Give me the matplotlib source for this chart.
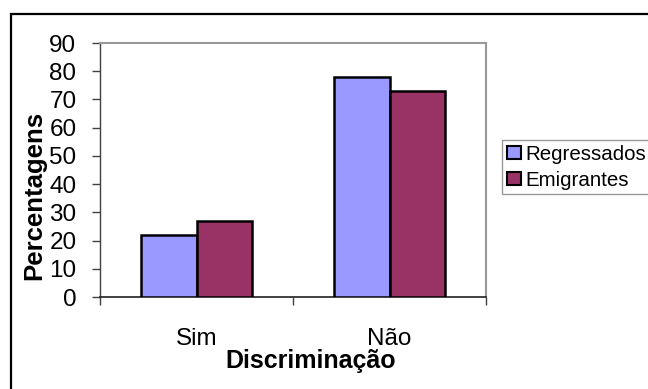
import matplotlib
matplotlib.use("Agg")
import matplotlib.pyplot as plt
from matplotlib.patches import Rectangle, Patch
import numpy as np

categories = ["Sim", "Não"]
regressados = [22, 78]
emigrantes = [27, 73]
series_names = ["Regressados", "Emigrantes"]
yticks = [0, 10, 20, 30, 40, 50, 60, 70, 80, 90]

plt.rcParams["font.family"] = ["Liberation Sans", "DejaVu Sans"]

W, H = 648, 389
fig = plt.figure(figsize=(W / 100, H / 100), dpi=100)

# outer chart-area border (runs off the right and bottom edges)
fig.patches.append(Rectangle((10.5 / W, -0.05), 1.2, 1 - 14 / H + 0.05,
                             transform=fig.transFigure, fill=False,
                             edgecolor="black", linewidth=1.6))

ax = fig.add_axes([100 / W, 1 - 297 / H, 386 / W, 254 / H])

x = np.arange(len(categories))
bw = 0.288
blue = "#9999FF"
plum = "#993366"
ax.bar(x - bw / 2, regressados, bw, color=blue, edgecolor="black", linewidth=1.8, zorder=3)
ax.bar(x + bw / 2, emigrantes, bw, color=plum, edgecolor="black", linewidth=1.8, zorder=3)

ax.set_xlim(-0.5, 1.5)
ax.set_ylim(0, 90)
ax.set_yticks(yticks)
ax.set_yticklabels([str(v) for v in yticks], fontsize=17.5)
ax.tick_params(axis="y", length=6, width=1, color="#404040", pad=11)

ax.set_xticks([-0.5, 0.5, 1.5])
ax.set_xticklabels([])
ax.set_xticks(x, minor=True)
ax.set_xticklabels(categories, minor=True, fontsize=17.5)
ax.tick_params(axis="x", which="major", length=6, width=1, color="#404040")
ax.tick_params(axis="x", which="minor", length=0, pad=22)

for side in ("top", "right"):
    ax.spines[side].set_color("#999999")
    ax.spines[side].set_linewidth(1.5)
ax.spines["left"].set_color("#404040")
ax.spines["bottom"].set_color("#202020")
ax.spines["left"].set_linewidth(1.0)
ax.spines["bottom"].set_linewidth(1.2)

fig.text(311 / W, 1 - 368.3 / H, "Discriminação", ha="center", va="baseline",
         fontsize=18, fontweight="bold")
fig.text(34 / W, 1 - 195 / H, "Percentagens", ha="center", va="center",
         rotation=90, fontsize=18.5, fontweight="bold")

handles = [Patch(facecolor=blue, edgecolor="black", linewidth=1.5),
           Patch(facecolor=plum, edgecolor="black", linewidth=1.5)]
leg = fig.legend(handles, series_names, loc="upper left",
                 bbox_to_anchor=(502.5 / W, 1 - 140 / H), fontsize=14.8,
                 frameon=True, fancybox=False, borderaxespad=0,
                 handlelength=0.7, handleheight=0.6, handletextpad=0.2,
                 borderpad=0.22, labelspacing=0.35)
leg.get_frame().set_edgecolor("#808080")
leg.get_frame().set_linewidth(1.0)

fig.savefig("out.png", dpi=100)
